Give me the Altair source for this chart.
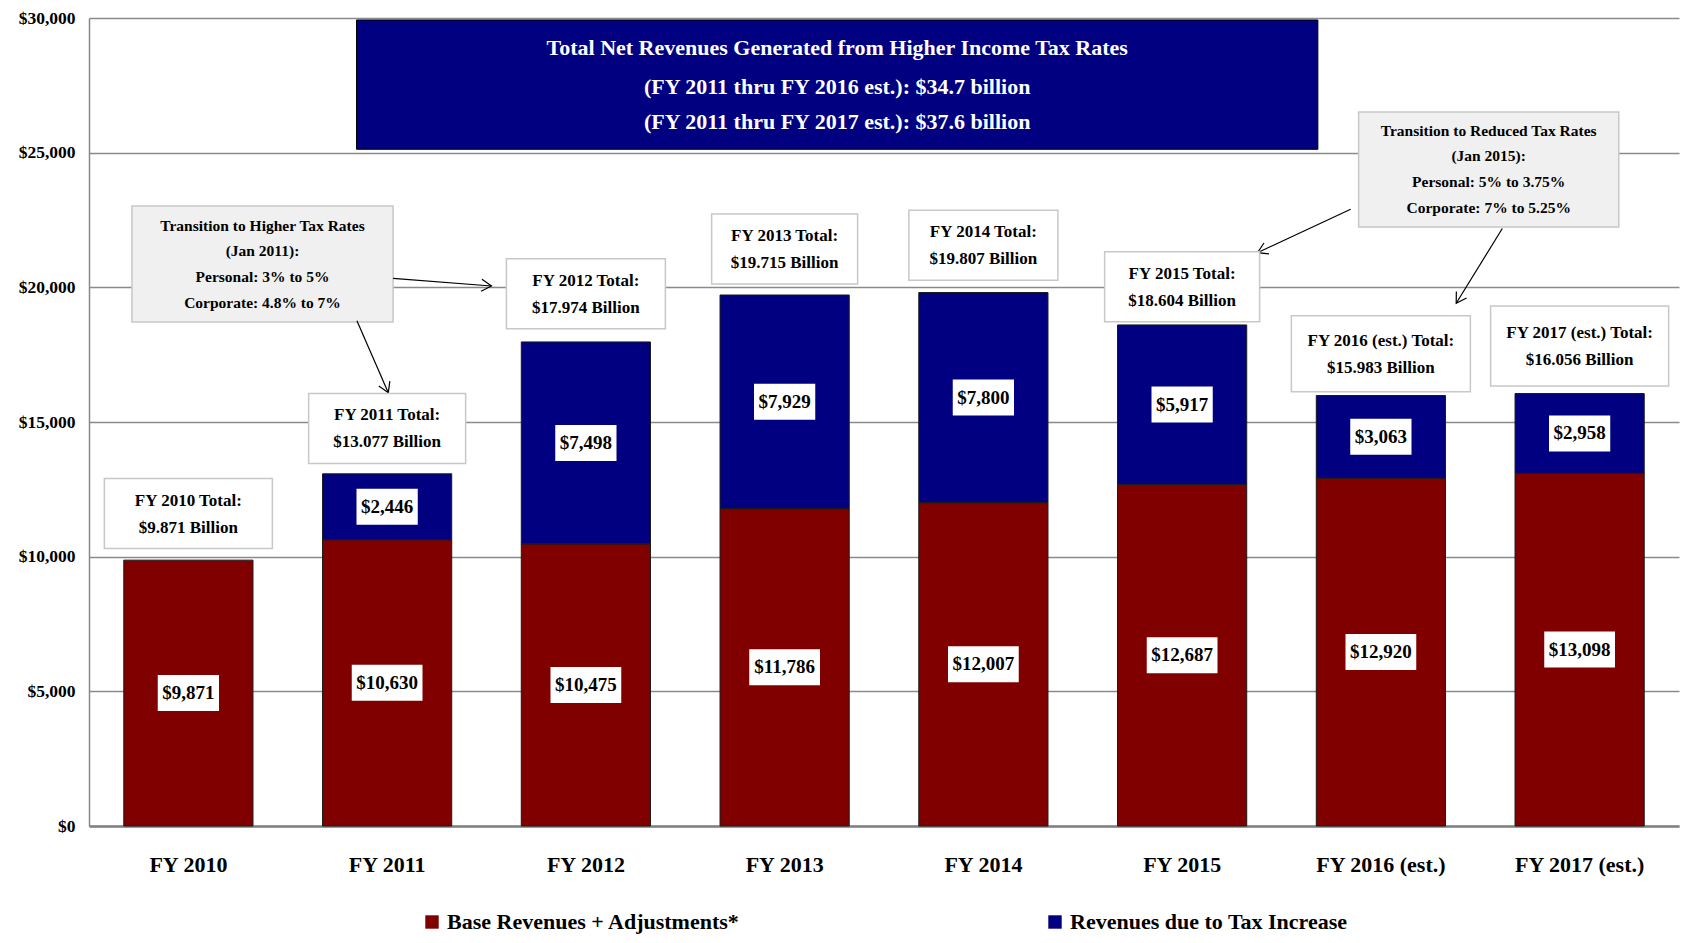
import math
import altair as alt
import pandas as pd

# ---------------- data ----------------
categories = ["FY 2010", "FY 2011", "FY 2012", "FY 2013", "FY 2014",
              "FY 2015", "FY 2016 (est.)", "FY 2017 (est.)"]
base_values = [9871, 10630, 10475, 11786, 12007, 12687, 12920, 13098]
tax_values = [0, 2446, 7498, 7929, 7800, 5917, 3063, 2958]
total_heads = ["FY 2010 Total:", "FY 2011 Total:", "FY 2012 Total:", "FY 2013 Total:",
               "FY 2014 Total:", "FY 2015 Total:", "FY 2016 (est.) Total:", "FY 2017 (est.) Total:"]
total_amounts = ["$9.871 Billion", "$13.077 Billion", "$17.974 Billion", "$19.715 Billion",
                 "$19.807 Billion", "$18.604 Billion", "$15.983 Billion", "$16.056 Billion"]
series_names = ["Base Revenues + Adjustments*", "Revenues due to Tax Increase"]
series_colors = ["#800000", "#000080"]
y_ticks = [0, 5000, 10000, 15000, 20000, 25000, 30000]
title_lines = ["Total Net Revenues Generated from Higher Income Tax Rates",
               "(FY 2011 thru FY 2016 est.):  $34.7 billion",
               "(FY 2011 thru FY 2017 est.): $37.6 billion"]
higher_lines = ["Transition to Higher Tax Rates", "(Jan 2011):",
                "Personal:  3% to 5%", "Corporate: 4.8% to 7%"]
reduced_lines = ["Transition to Reduced Tax Rates", "(Jan 2015):",
                 "Personal:  5% to 3.75%", "Corporate: 7% to 5.25%"]

# ---------------- layout / annotation geometry ----------------
W, H = 1590, 808
Y_MAX = 30000
PX_U = W / len(categories)      # pixels per category unit
V_PX = Y_MAX / H                # value units per pixel
FONT = "Liberation Serif"

total_box_center = [11600, 14763, 19764, 21424, 21561, 20024, 17531, 17822]
total_box_w = [168, 157, 159, 146, 149, 155, 179, 178]
total_box_h = [70, 70, 70, 70, 70, 70, 76, 80]

title_box = dict(u1=1.346, u2=6.183, v1=25126, v2=29926)
title_text_v = [28876, 27451, 26151]
higher_box = dict(u1=0.216, u2=1.530, v1=18714, v2=23021)
higher_text_v = [22278, 21350, 20384, 19419]
reduced_box = dict(u1=6.388, u2=7.697, v1=22241, v2=26510)
reduced_text_v = [25787, 24877, 23912, 22947]
arrows = [(1.530, 20336, 2.025, 20050), (1.348, 18762, 1.506, 16088),
          (6.348, 22898, 5.879, 21287), (7.111, 22184, 6.879, 19408)]

# ---------------- scales / axes ----------------
yscale = alt.Scale(domain=[0, Y_MAX], nice=False, zero=True)
uscale = alt.Scale(domain=[0, len(categories)], nice=False, zero=False)
band = alt.Scale(domain=categories, paddingInner=0.35, paddingOuter=0.175)
yaxis = alt.Axis(
    title=None, values=y_ticks, format="$,.0f", labelFont=FONT, labelFontWeight="bold",
    labelFontSize=17.5, labelColor="black", labelPadding=14, ticks=False, tickSize=0,
    domainColor="#888888", domainWidth=1.5, grid=True, gridColor="#8a8a8a", gridWidth=1.5)


def ux(f):
    return alt.X(f"{f}:Q", scale=uscale, axis=None)


def vy(f):
    return alt.Y(f"{f}:Q", scale=yscale, axis=yaxis)


def text_layer(df, size, color):
    return alt.Chart(df).mark_text(font=FONT, fontWeight="bold", fontSize=size,
                                   color=color).encode(x=ux("u"), y=vy("v"), text="t:N")


# ---------------- bars ----------------
rows = []
for i, c in enumerate(categories):
    for k, vals in enumerate([base_values, tax_values]):
        if vals[i] > 0:
            rows.append(dict(cat=c, series=series_names[k], value=vals[i], ord=k))
bars_df = pd.DataFrame(rows)

bars = alt.Chart(bars_df).mark_bar(stroke="#1a1a1a", strokeWidth=1).encode(
    x=alt.X("cat:N", scale=band, axis=alt.Axis(
        title=None, labelAngle=0, labelFont=FONT, labelFontWeight="bold", labelFontSize=22,
        labelColor="black", labelPadding=38, labelBaseline="middle", ticks=False, tickSize=0,
        domainColor="#808080", domainWidth=2.5, grid=False, labelLimit=300)),
    y=alt.Y("value:Q", stack="zero", scale=yscale, axis=yaxis),
    color=alt.Color("series:N", scale=alt.Scale(domain=series_names, range=series_colors),
                    legend=alt.Legend(title=None, orient="none", legendX=332, legendY=893,
                                      direction="horizontal", symbolType="square", symbolSize=180,
                                      symbolStrokeWidth=0, labelFont=FONT, labelFontSize=22,
                                      labelFontWeight="bold", labelColor="black",
                                      columnPadding=303, labelLimit=500, labelOffset=4)),
    order=alt.Order("ord:Q", sort="ascending"),
)

# ---------------- segment labels ----------------
seg = []
for i, c in enumerate(categories):
    b, t = base_values[i], tax_values[i]
    parts = [(b, b / 2)]
    if t > 0:
        parts.append((t, b + t / 2))
    for val, mid in parts:
        lab = "${:,}".format(val)
        wpx = 19 * sum(0.25 if ch in ",." else 0.5 for ch in lab) + 9
        seg.append(dict(u=i + 0.5, v=mid, t=lab,
                        u1=i + 0.5 - wpx / 2 / PX_U, u2=i + 0.5 + wpx / 2 / PX_U,
                        v1=mid - 18 * V_PX, v2=mid + 18 * V_PX))
seg_df = pd.DataFrame(seg)
seg_boxes = alt.Chart(seg_df).mark_rect(color="white").encode(
    x=ux("u1"), x2="u2", y=vy("v1"), y2="v2")
seg_text = text_layer(seg_df, 19, "black")

# ---------------- total boxes ----------------
tb, tt = [], []
for i in range(len(categories)):
    cu = i + 0.5
    cv = total_box_center[i]
    hw = total_box_w[i] / 2 / PX_U
    hh = total_box_h[i] / 2 * V_PX
    tb.append(dict(u1=cu - hw, u2=cu + hw, v1=cv - hh, v2=cv + hh))
    tt.append(dict(u=cu, v=cv + 13 * V_PX, t=total_heads[i]))
    tt.append(dict(u=cu, v=cv - 14 * V_PX, t=total_amounts[i]))
total_boxes = alt.Chart(pd.DataFrame(tb)).mark_rect(
    fill="white", stroke="#c8c8c8", strokeWidth=1.5).encode(
    x=ux("u1"), x2="u2", y=vy("v1"), y2="v2")
total_text = text_layer(pd.DataFrame(tt), 17, "black")

# ---------------- title box ----------------
title_rect = alt.Chart(pd.DataFrame([title_box])).mark_rect(
    fill="#000080", stroke="#000000", strokeWidth=1).encode(
    x=ux("u1"), x2="u2", y=vy("v1"), y2="v2")
tcu = (title_box["u1"] + title_box["u2"]) / 2
title_text = text_layer(pd.DataFrame(
    [dict(u=tcu, v=v, t=t) for t, v in zip(title_lines, title_text_v)]), 22, "white")

# ---------------- transition boxes ----------------
trans_boxes = alt.Chart(pd.DataFrame([higher_box, reduced_box])).mark_rect(
    fill="#f0f0f0", stroke="#c8c8c8", strokeWidth=1.5).encode(
    x=ux("u1"), x2="u2", y=vy("v1"), y2="v2")
tr = []
for box, lines, vs in [(higher_box, higher_lines, higher_text_v),
                       (reduced_box, reduced_lines, reduced_text_v)]:
    cu = (box["u1"] + box["u2"]) / 2
    for t, v in zip(lines, vs):
        tr.append(dict(u=cu, v=v, t=t))
trans_text = text_layer(pd.DataFrame(tr), 15.5, "black")

# ---------------- arrows ----------------
ar, heads = [], []
for u1, v1, u2, v2 in arrows:
    ar.append(dict(u1=u1, v1=v1, u2=u2, v2=v2))
    dx = (u2 - u1) * PX_U
    dy = -(v2 - v1) / V_PX
    ang = math.degrees(math.atan2(dy, dx)) % 360
    heads.append(dict(u=u2, v=v2, ang=ang))
arrow_lines = alt.Chart(pd.DataFrame(ar)).mark_rule(color="black", strokeWidth=1.2).encode(
    x=ux("u1"), x2="u2", y=vy("v1"), y2="v2")
arrow_heads = alt.Chart(pd.DataFrame(heads)).mark_point(
    shape="M-1,-0.6L0,0L-1,0.6", filled=False, stroke="black", strokeWidth=1.2,
    size=400, opacity=1).encode(
    x=ux("u"), y=vy("v"), angle=alt.Angle("ang:Q", scale=None))

chart = alt.layer(
    bars, title_rect, title_text, trans_boxes, trans_text, arrow_lines, arrow_heads,
    seg_boxes, seg_text, total_boxes, total_text,
).resolve_scale(x="independent").properties(
    width=W, height=H,
    padding={"left": 81, "top": 10, "right": 2, "bottom": 109},
    autosize=alt.AutoSizeParams(type="none"),
).configure_view(strokeWidth=0)

chart.save("out.html", embed_options={"renderer": "svg", "actions": False})
